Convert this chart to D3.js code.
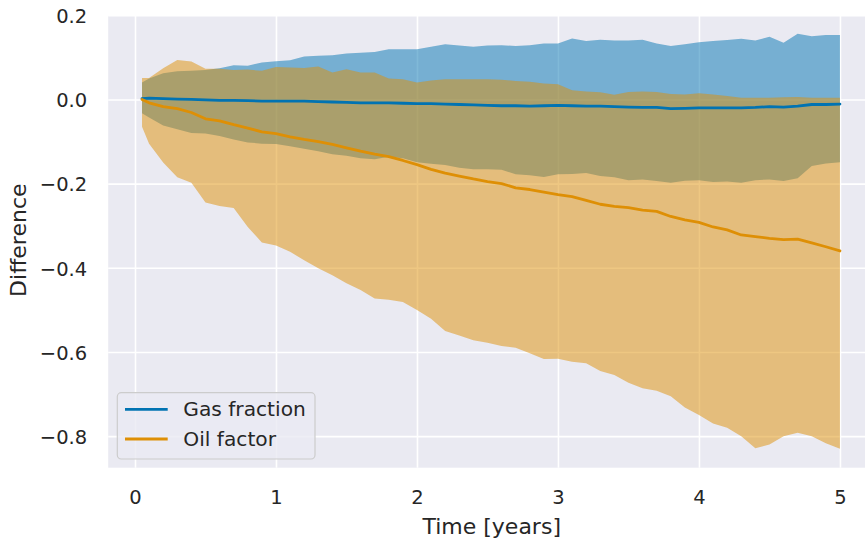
<!DOCTYPE html>
<html>
<head>
<meta charset="utf-8">
<script src="https://cdn.jsdelivr.net/npm/d3@7"></script>
<style>
  html, body { margin: 0; padding: 0; background: #ffffff; }
  svg { display: block; font-family: "DejaVu Sans", sans-serif; }
</style>
</head>
<body>
<svg id="chart" width="865" height="540"></svg>
<script>
// Simulation time (years)
const time = [
  0.05, 0.1, 0.2, 0.3, 0.4, 0.5, 0.6, 0.7, 0.8, 0.9,
  1.0, 1.1, 1.2, 1.3, 1.4, 1.5, 1.6, 1.7, 1.8, 1.9,
  2.0, 2.1, 2.2, 2.3, 2.4, 2.5, 2.6, 2.7, 2.8, 2.9,
  3.0, 3.1, 3.2, 3.3, 3.4, 3.5, 3.6, 3.7, 3.8, 3.9,
  4.0, 4.1, 4.2, 4.3, 4.4, 4.5, 4.6, 4.7, 4.8, 4.9,
  5.0
];

// Gas fraction difference: mean and band limits
const gasMean = [
  0.002, 0.003, 0.002, 0.001, 0.000, -0.001, -0.002, -0.002, -0.003, -0.004,
  -0.004, -0.004, -0.004, -0.005, -0.006, -0.007, -0.008, -0.008, -0.008, -0.009,
  -0.010, -0.010, -0.011, -0.012, -0.013, -0.014, -0.015, -0.015, -0.016, -0.015,
  -0.014, -0.015, -0.016, -0.016, -0.017, -0.018, -0.019, -0.019, -0.022, -0.021,
  -0.020, -0.020, -0.020, -0.020, -0.019, -0.017, -0.018, -0.016, -0.012, -0.012,
  -0.011
];
const gasHi = [
  0.040, 0.050, 0.062, 0.067, 0.068, 0.070, 0.074, 0.081, 0.080, 0.088,
  0.091, 0.093, 0.102, 0.104, 0.105, 0.109, 0.111, 0.113, 0.119, 0.119,
  0.119, 0.125, 0.131, 0.128, 0.125, 0.128, 0.129, 0.127, 0.129, 0.133,
  0.133, 0.145, 0.139, 0.142, 0.140, 0.140, 0.142, 0.133, 0.127, 0.131,
  0.136, 0.139, 0.141, 0.144, 0.140, 0.149, 0.135, 0.156, 0.150, 0.153,
  0.153
];
const gasLo = [
  -0.033, -0.043, -0.062, -0.071, -0.080, -0.081, -0.087, -0.095, -0.102, -0.105,
  -0.106, -0.111, -0.117, -0.123, -0.130, -0.134, -0.140, -0.142, -0.136, -0.140,
  -0.149, -0.153, -0.156, -0.162, -0.166, -0.166, -0.167, -0.178, -0.180, -0.184,
  -0.178, -0.177, -0.175, -0.182, -0.185, -0.192, -0.190, -0.194, -0.198, -0.193,
  -0.192, -0.196, -0.195, -0.198, -0.192, -0.190, -0.194, -0.187, -0.158, -0.152,
  -0.149
];

// Oil factor difference: mean and band limits
const oilMean = [
  0.000, -0.008, -0.017, -0.022, -0.031, -0.046, -0.051, -0.060, -0.068, -0.077,
  -0.081, -0.089, -0.095, -0.100, -0.107, -0.115, -0.123, -0.130, -0.136, -0.145,
  -0.155, -0.166, -0.175, -0.182, -0.189, -0.195, -0.200, -0.210, -0.214, -0.220,
  -0.226, -0.231, -0.240, -0.249, -0.254, -0.257, -0.263, -0.266, -0.278, -0.286,
  -0.292, -0.303, -0.310, -0.322, -0.326, -0.330, -0.333, -0.332, -0.341, -0.350,
  -0.360
];
const oilHi = [
  0.051, 0.051, 0.074, 0.094, 0.090, 0.073, 0.073, 0.070, 0.071, 0.068,
  0.077, 0.076, 0.075, 0.078, 0.064, 0.072, 0.064, 0.064, 0.050, 0.048,
  0.040, 0.045, 0.048, 0.048, 0.048, 0.048, 0.047, 0.044, 0.042, 0.038,
  0.036, 0.022, 0.019, 0.017, 0.011, 0.018, 0.019, 0.018, 0.013, 0.012,
  0.015, 0.012, 0.008, 0.004, 0.004, 0.004, 0.005, 0.006, 0.004, 0.004,
  0.004
];
const oilLo = [
  -0.065, -0.105, -0.150, -0.185, -0.198, -0.245, -0.253, -0.258, -0.303, -0.340,
  -0.347, -0.362, -0.382, -0.401, -0.418, -0.437, -0.453, -0.473, -0.476, -0.481,
  -0.500, -0.521, -0.550, -0.561, -0.572, -0.578, -0.586, -0.590, -0.603, -0.617,
  -0.616, -0.623, -0.627, -0.645, -0.655, -0.673, -0.686, -0.692, -0.705, -0.732,
  -0.750, -0.770, -0.780, -0.800, -0.829, -0.820, -0.800, -0.792, -0.800, -0.817,
  -0.830
];

const xTicks = [0, 1, 2, 3, 4, 5];
const yTicks = [0.2, 0.0, -0.2, -0.4, -0.6, -0.8];
const seriesNames = ["Gas fraction", "Oil factor"];
const seriesColors = ["#0173b2", "#de8f05"];

const svg = d3.select("#chart");
const plot = { left: 108.2, top: 15.7, bottom: 467.7, right: 875.2 };

const x = d3.scaleLinear().domain([-0.19, 5.25]).range([plot.left, plot.right]);
const y = d3.scaleLinear().domain([-0.875, 0.199]).range([plot.bottom, plot.top]);

const textColor = "#262626";
const tickFont = 19.5;
const labelFont = 22;

// Axes background
svg.append("rect")
  .attr("x", plot.left).attr("y", plot.top)
  .attr("width", plot.right - plot.left).attr("height", plot.bottom - plot.top)
  .attr("fill", "#eaeaf2");

// Grid + tick labels via d3 axes
const fmtY = v => (v < 0 ? "\u2212" : "") + Math.abs(v).toFixed(1);

const yAxis = svg.append("g")
  .attr("transform", `translate(${plot.left},0)`)
  .call(d3.axisLeft(y).tickValues(yTicks).tickFormat(fmtY)
    .tickSizeInner(-(plot.right - plot.left)).tickSizeOuter(0).tickPadding(21));
yAxis.select(".domain").remove();
yAxis.selectAll(".tick line").attr("stroke", "#ffffff").attr("stroke-width", 1.6);
yAxis.selectAll(".tick text")
  .attr("fill", textColor).attr("font-size", tickFont)
  .attr("font-family", "DejaVu Sans").attr("dy", "0.37em");

const xAxis = svg.append("g")
  .attr("transform", `translate(0,${plot.bottom})`)
  .call(d3.axisBottom(x).tickValues(xTicks).tickFormat(d3.format("d"))
    .tickSizeInner(-(plot.bottom - plot.top)).tickSizeOuter(0).tickPadding(22));
xAxis.select(".domain").remove();
xAxis.selectAll(".tick line").attr("stroke", "#ffffff").attr("stroke-width", 1.6);
xAxis.selectAll(".tick text")
  .attr("fill", textColor).attr("font-size", tickFont)
  .attr("font-family", "DejaVu Sans").attr("dy", "0.71em");

// Clip to axes
svg.append("clipPath").attr("id", "plotclip")
  .append("rect")
  .attr("x", plot.left).attr("y", plot.top)
  .attr("width", plot.right - plot.left).attr("height", plot.bottom - plot.top);

const layer = svg.append("g").attr("clip-path", "url(#plotclip)");

const gasRows = time.map((t, i) => ({ t, m: gasMean[i], lo: gasLo[i], hi: gasHi[i] }));
const oilRows = time.map((t, i) => ({ t, m: oilMean[i], lo: oilLo[i], hi: oilHi[i] }));

const band = d3.area().x(d => x(d.t)).y0(d => y(d.lo)).y1(d => y(d.hi));
const line = d3.line().x(d => x(d.t)).y(d => y(d.m));

// Uncertainty bands
[gasRows, oilRows].forEach((rows, i) => {
  layer.append("path").datum(rows)
    .attr("d", band)
    .attr("fill", seriesColors[i])
    .attr("fill-opacity", 0.5);
});

// Mean curves
[gasRows, oilRows].forEach((rows, i) => {
  layer.append("path").datum(rows)
    .attr("d", line)
    .attr("fill", "none")
    .attr("stroke", seriesColors[i])
    .attr("stroke-width", 2.8)
    .attr("stroke-linejoin", "round")
    .attr("stroke-linecap", "round");
});

// Axis labels
svg.append("text")
  .attr("x", (plot.left + plot.right) / 2).attr("y", 534)
  .attr("text-anchor", "middle")
  .attr("fill", textColor).attr("font-size", labelFont)
  .text("Time [years]");

svg.append("text")
  .attr("transform", `translate(26,${(plot.top + plot.bottom) / 2 - 1.5}) rotate(-90)`)
  .attr("text-anchor", "middle")
  .attr("fill", textColor).attr("font-size", labelFont)
  .text("Difference");

// Legend
const legend = svg.append("g");
legend.append("rect")
  .attr("x", 117.3).attr("y", 392.7)
  .attr("width", 197.7).attr("height", 66.3)
  .attr("rx", 4).attr("ry", 4)
  .attr("fill", "#eaeaf2").attr("fill-opacity", 0.8)
  .attr("stroke", "#cccccc").attr("stroke-width", 1.2);

seriesNames.forEach((name, i) => {
  const cy = 409.3 + i * 29.7;
  legend.append("line")
    .attr("x1", 125).attr("x2", 167.7)
    .attr("y1", cy).attr("y2", cy)
    .attr("stroke", seriesColors[i]).attr("stroke-width", 2.8);
  legend.append("text")
    .attr("x", 183.3).attr("y", cy + 7)
    .attr("fill", textColor).attr("font-size", 20.2)
    .text(name);
});
</script>
</body>
</html>
